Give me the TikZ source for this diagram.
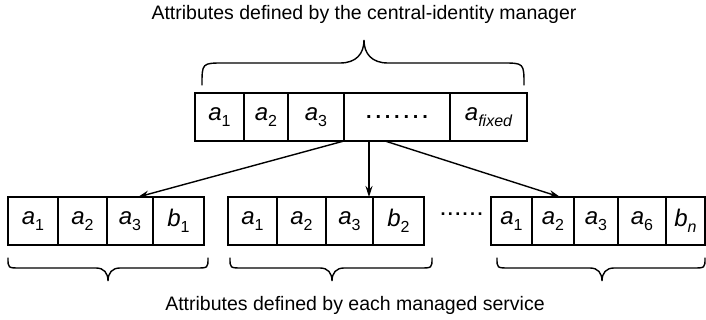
\documentclass[tikz,border=0pt]{standalone}
\usepackage{fontspec}
\setmainfont{Liberation Sans}
\usetikzlibrary{arrows.meta,calc}
\newcommand{\cl}[2]{\fontsize{24}{26}\selectfont{\itshape #1}\raisebox{-0.25em}{\fontsize{16}{18}\selectfont\upshape #2}}
\newcommand{\cli}[2]{\fontsize{24}{26}\selectfont{\itshape #1}\raisebox{-0.25em}{\fontsize{16}{18}\selectfont\itshape #2}}
\begin{document}
\begin{tikzpicture}[x=1pt,y=-1pt,
  cellbox/.style={draw, line width=1.5pt, minimum height=48pt, inner sep=0pt, outer sep=0pt, anchor=center},
  title/.style={font=\fontsize{19.5}{22}\selectfont, inner sep=0pt},
  arr/.style={line width=1.4pt, -{Stealth[length=11pt,width=7pt]}},
  brc/.style={line width=1.4pt, line cap=round}]
\useasboundingbox (0,0) rectangle (706,320);
% titles
\node[title] (ttop) at (364,14) {Attributes defined by the central-identity manager};
\node[title] (tbot) at (355,305) {Attributes defined by each managed service};
% top box
\node[cellbox, minimum width=49pt] (t1) at (219.5,117) {\cl{a}{1}};
\node[cellbox, minimum width=44pt] (t2) at (266,117) {\cl{a}{2}};
\node[cellbox, minimum width=56pt] (t3) at (316,117) {\cl{a}{3}};
\node[cellbox, minimum width=106pt] (t4) at (397,117) {\fontsize{20}{22}\selectfont\bfseries .\kern3.8pt.\kern3.8pt.\kern3.8pt.\kern3.8pt.\kern3.8pt.\kern3.8pt.};
\node[cellbox, minimum width=77pt] (t5) at (488.5,117) {\cli{a}{fixed}};
% bottom box 1
\node[cellbox, minimum width=50pt] (b11) at (33,221) {\cl{a}{1}};
\node[cellbox, minimum width=49pt] (b12) at (82.5,221) {\cl{a}{2}};
\node[cellbox, minimum width=46pt] (b13) at (130,221) {\cl{a}{3}};
\node[cellbox, minimum width=51pt] (b14) at (178.5,221) {\cl{b}{1}};
% bottom box 2
\node[cellbox, minimum width=49pt] (b21) at (252.5,221) {\cl{a}{1}};
\node[cellbox, minimum width=49pt] (b22) at (301.5,221) {\cl{a}{2}};
\node[cellbox, minimum width=47pt] (b23) at (349.5,221) {\cl{a}{3}};
\node[cellbox, minimum width=51pt] (b24) at (398.5,221) {\cl{b}{2}};
% dots between
\node[inner sep=0pt] (gap) at (461.5,214) {\fontsize{18}{20}\selectfont\bfseries .\kern2.4pt.\kern2.4pt.\kern2.4pt.\kern2.4pt.\kern2.4pt.};
% bottom box 3
\node[cellbox, minimum width=41pt] (b31) at (511.5,221) {\cl{a}{1}};
\node[cellbox, minimum width=42pt] (b32) at (553,221) {\cl{a}{2}};
\node[cellbox, minimum width=44pt] (b33) at (596,221) {\cl{a}{3}};
\node[cellbox, minimum width=48pt] (b34) at (642,221) {\cl{a}{6}};
\node[cellbox, minimum width=39pt] (b35) at (685.5,221) {\cli{b}{n}};
% arrows
\coordinate (s1) at (t3.south east);
\coordinate (s2) at ([xshift=25pt]t3.south east);
\coordinate (s3) at ([xshift=41pt]t3.south east);
\draw[arr] (s1) -- ([xshift=8pt]b13.north);
\draw[arr] (s2) -- (s2 |- b24.north);
\draw[arr] (s3) -- ([xshift=7pt]b32.north);
% top brace
\draw[brc] (202,85) .. controls (202,63) .. (224,63) -- (340,63)
   .. controls (356,63) and (364,54) .. (364,40)
   .. controls (364,54) and (372,63) .. (388,63) -- (502,63)
   .. controls (524,63) .. (524,85);
% bottom braces
\newcommand{\lowbrace}[3]{%
  \draw[brc] (#1,258) .. controls (#1,268) .. (#1+12,268) -- (#3-12,268)
   .. controls (#3-4,268) and (#3,273) .. (#3,281)
   .. controls (#3,273) and (#3+4,268) .. (#3+12,268) -- (#2-12,268)
   .. controls (#2,268) .. (#2,258);}
\lowbrace{8}{208}{108}
\lowbrace{230}{432}{332}
\lowbrace{497}{705}{602}
\end{tikzpicture}
\end{document}
